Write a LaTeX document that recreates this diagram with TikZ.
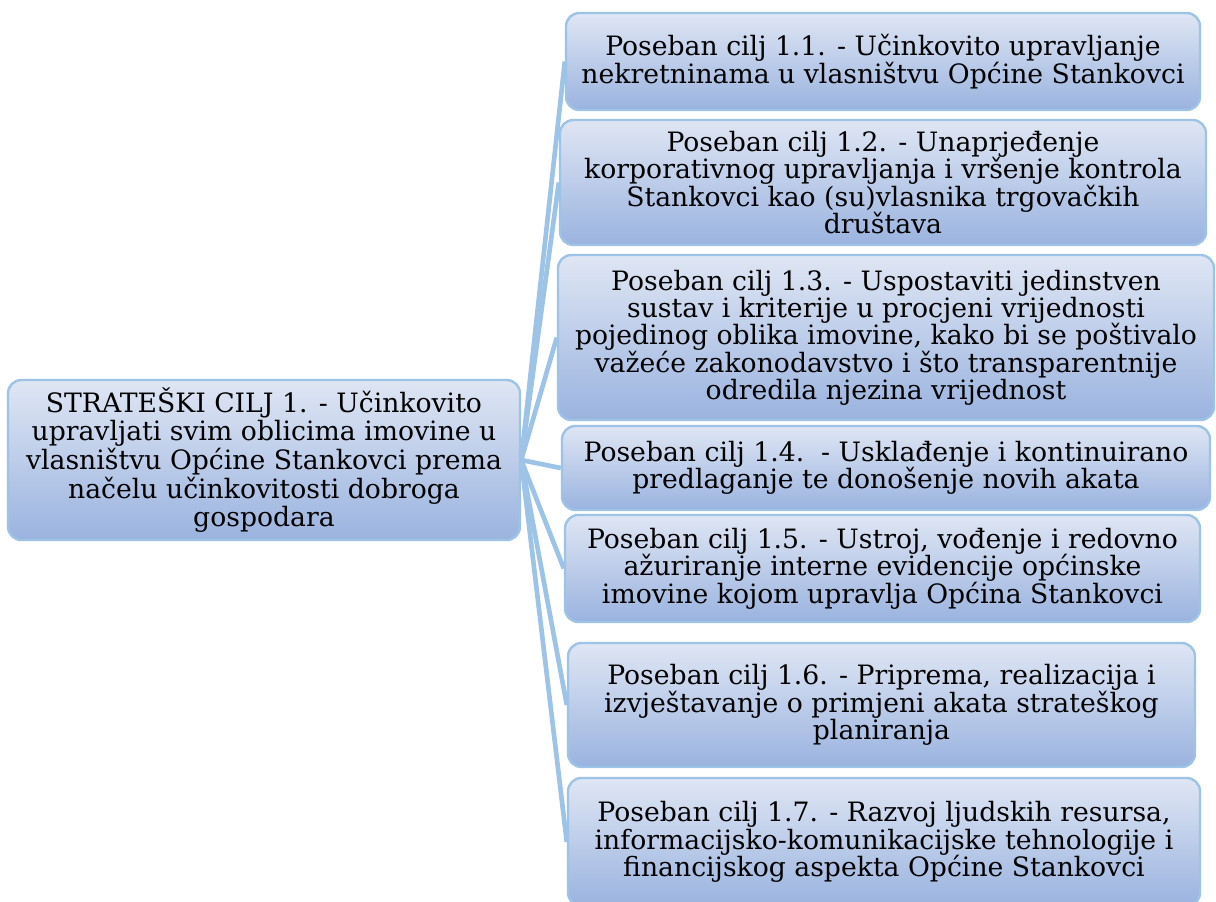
\documentclass[tikz,border=0pt]{standalone}
\usepackage{fontspec}
\setmainfont{DejaVu Serif}
\usetikzlibrary{backgrounds}
\definecolor{linkblue}{HTML}{9DC3E6}
\definecolor{boxtop}{HTML}{DFE6F4}
\definecolor{boxbot}{HTML}{9AB3DF}
\tikzset{
	cilj/.style={draw=linkblue, line width=1.8pt, rounded corners=10pt,
		top color=boxtop, bottom color=boxbot, align=center,
		font=\fontsize{20}{20.5}\selectfont, inner sep=0pt},
	veza/.style={linkblue, line width=3.5pt}
}
\begin{document}
\begin{tikzpicture}
	[x=0.75pt, y=-0.75pt]
	\useasboundingbox (0,0) rectangle (1216,901);
	\node[cilj, minimum width=384pt, minimum height=120pt,
		font=\fontsize{20}{21.5}\selectfont] (glavni) at (264,460)
		{STRATEŠKI CILJ 1. - Učinkovito\\ upravljati svim oblicima imovine u\\ vlasništvu Općine Stankovci prema\\ načelu učinkovitosti dobroga\\ gospodara};
	\node[cilj, minimum width=475.5pt, minimum height=72.75pt] (c1) at (883,61.5)
		{Poseban cilj 1.1. - Učinkovito upravljanje\\ nekretninama u vlasništvu Općine Stankovci};
	\node[cilj, minimum width=484.5pt, minimum height=93.75pt] (c2) at (883,182.5)
		{Poseban cilj 1.2. - Unaprjeđenje\\ korporativnog upravljanja i vršenje kontrola\\ Stankovci kao (su)vlasnika trgovačkih\\ društava};
	\node[cilj, minimum width=492pt, minimum height=123.75pt] (c3) at (886,337.5)
		{Poseban cilj 1.3. - Uspostaviti jedinstven\\ sustav i kriterije u procjeni vrijednosti\\ pojedinog oblika imovine, kako bi se poštivalo\\ važeće zakonodavstvo i što transparentnije\\ odredila njezina vrijednost};
	\node[cilj, minimum width=486pt, minimum height=63pt] (c4) at (886,468)
		{Poseban cilj 1.4.\ \ - Usklađenje i kontinuirano\\ predlaganje te donošenje novih akata};
	\node[cilj, minimum width=476.25pt, minimum height=80.25pt] (c5) at (882.5,568.5)
		{Poseban cilj 1.5. - Ustroj, vođenje i redovno\\ ažuriranje interne evidencije općinske\\ imovine kojom upravlja Općina Stankovci};
	\node[cilj, minimum width=470.25pt, minimum height=93pt] (c6) at (881.5,705)
		{Poseban cilj 1.6. - Priprema, realizacija i\\ izvještavanje o primjeni akata strateškog\\ planiranja};
	\node[cilj, minimum width=474pt, minimum height=96pt] (c7) at (884,842)
		{Poseban cilj 1.7. - Razvoj ljudskih resursa,\\ informacijsko-komunikacijske tehnologije i\\ financijskog aspekta Općine Stankovci};
	\begin{scope}[on background layer]
		\foreach \c in {c1,c2,c3,c4,c5,c6,c7}
			\draw[veza] (glavni.east) -- (\c.west);
	\end{scope}
\end{tikzpicture}
\end{document}
